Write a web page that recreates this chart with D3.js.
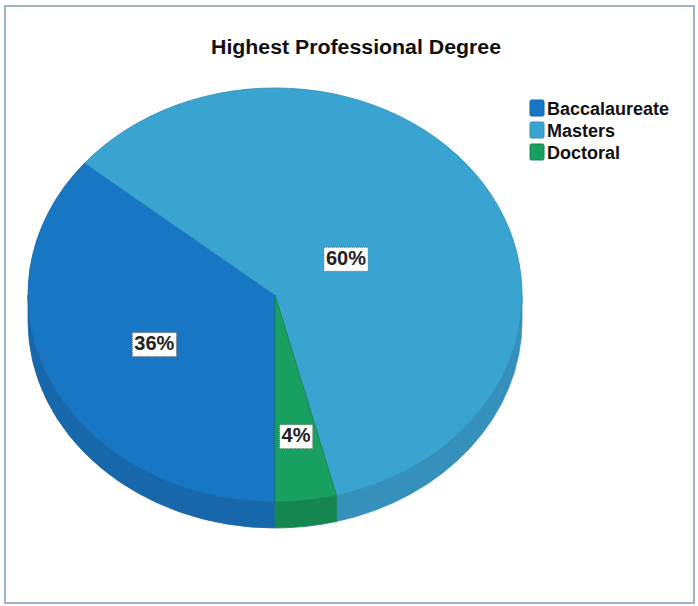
<!DOCTYPE html>
<html>
<head>
<meta charset="utf-8">
<script src="https://cdn.jsdelivr.net/npm/d3@7"></script>
<style>
  body { margin: 0; background: #fff; }
  svg { display: block; font-family: "Liberation Sans", Arial, sans-serif; }
</style>
</head>
<body>
<svg id="chart" width="698" height="606"></svg>
<script>
const categories = ['Baccalaureate', 'Masters', 'Doctoral']
const percents = [36, 60, 4]
const labels = ['36%', '60%', '4%']

const topColours = ['#1877c4', '#3aa4d1', '#18a060']
const sideColours = ['#1767ab', '#3590bb', '#158650']

const width = 698, height = 606
const cx = 275, cy = 295, rx = 247, ry = 207, depth = 26
const labelFrac = { Baccalaureate: 0.54, Masters: 0.34, Doctoral: 0.68 }

const svg = d3.select('#chart')

// outer frame
svg.append('rect')
    .attr('x', 5).attr('y', 6)
    .attr('width', 689).attr('height', 597)
    .attr('fill', '#fff')
    .attr('stroke', '#9fb4c8')
    .attr('stroke-width', 2)

svg.append('text')
    .attr('x', 356).attr('y', 54)
    .attr('text-anchor', 'middle')
    .attr('font-size', 20).attr('font-weight', 'bold')
    .attr('textLength', 290).attr('lengthAdjust', 'spacingAndGlyphs')
    .attr('fill', '#111')
    .text('Highest Professional Degree')

const pie = d3.pie().sort(null).startAngle(Math.PI).endAngle(3 * Math.PI)
const slices = pie(percents)

const pt = (a, dy = 0) => [cx + rx * Math.sin(a), cy - ry * Math.cos(a) + dy]

// visible side wall parts: angles between PI/2 and 3PI/2 (mod 2PI)
const sideParts = []
slices.forEach((s, i) => {
    for (let k = 0; k < 2; k++) {
        const lo = Math.max(s.startAngle, Math.PI / 2 + 2 * Math.PI * k)
        const hi = Math.min(s.endAngle, 3 * Math.PI / 2 + 2 * Math.PI * k)
        if (hi > lo) sideParts.push({ i, lo, hi })
    }
})

svg.append('g')
    .selectAll('path')
    .data(sideParts)
    .join('path')
    .attr('d', d => {
        const [x0, y0] = pt(d.lo), [x1, y1] = pt(d.hi)
        const [x2, y2] = pt(d.hi, depth), [x3, y3] = pt(d.lo, depth)
        return `M${x0},${y0}A${rx},${ry} 0 0 1 ${x1},${y1}L${x2},${y2}A${rx},${ry} 0 0 0 ${x3},${y3}Z`
    })
    .attr('fill', d => sideColours[d.i])
    .attr('stroke', d => sideColours[d.i])
    .attr('stroke-width', 0.8)

const arc = d3.arc().innerRadius(0).outerRadius(rx)

svg.append('g')
    .attr('transform', `translate(${cx},${cy}) scale(1,${ry / rx})`)
    .selectAll('path')
    .data(slices)
    .join('path')
    .attr('d', arc)
    .attr('fill', (d, i) => topColours[i])
    .attr('stroke', (d, i) => sideColours[i])
    .attr('stroke-width', 1)

// percentage labels
const labelG = svg.append('g')
slices.forEach((s, i) => {
    const a = (s.startAngle + s.endAngle) / 2
    const f = labelFrac[categories[i]]
    const x = cx + rx * f * Math.sin(a)
    const y = cy - ry * f * Math.cos(a)
    const t = labelG.append('text')
        .attr('x', x).attr('y', y + 7.5)
        .attr('text-anchor', 'middle')
        .attr('font-size', 20).attr('font-weight', 'bold')
        .attr('fill', '#222')
        .text(labels[i])
    const b = t.node().getBBox()
    labelG.insert('rect', 'text')
        .attr('x', b.x - 2).attr('y', b.y + 0.5)
        .attr('width', b.width + 4).attr('height', b.height + 2)
        .attr('fill', '#fff')
        .attr('stroke', '#555')
        .attr('stroke-width', 0.8)
        .attr('stroke-dasharray', '1,1')
})

// legend
const legend = svg.append('g').attr('transform', 'translate(530,100)')
const rows = legend.selectAll('g')
    .data(categories)
    .join('g')
    .attr('transform', (d, i) => `translate(0,${i * 22})`)

rows.append('rect')
    .attr('x', 0).attr('y', 0)
    .attr('width', 14).attr('height', 16)
    .attr('rx', 1.5)
    .attr('fill', (d, i) => topColours[i])
    .attr('stroke', (d, i) => sideColours[i])

rows.append('text')
    .attr('x', 17).attr('y', 15)
    .attr('font-size', 18).attr('font-weight', 'bold')
    .attr('fill', '#111')
    .text(d => d)
</script>
</body>
</html>
